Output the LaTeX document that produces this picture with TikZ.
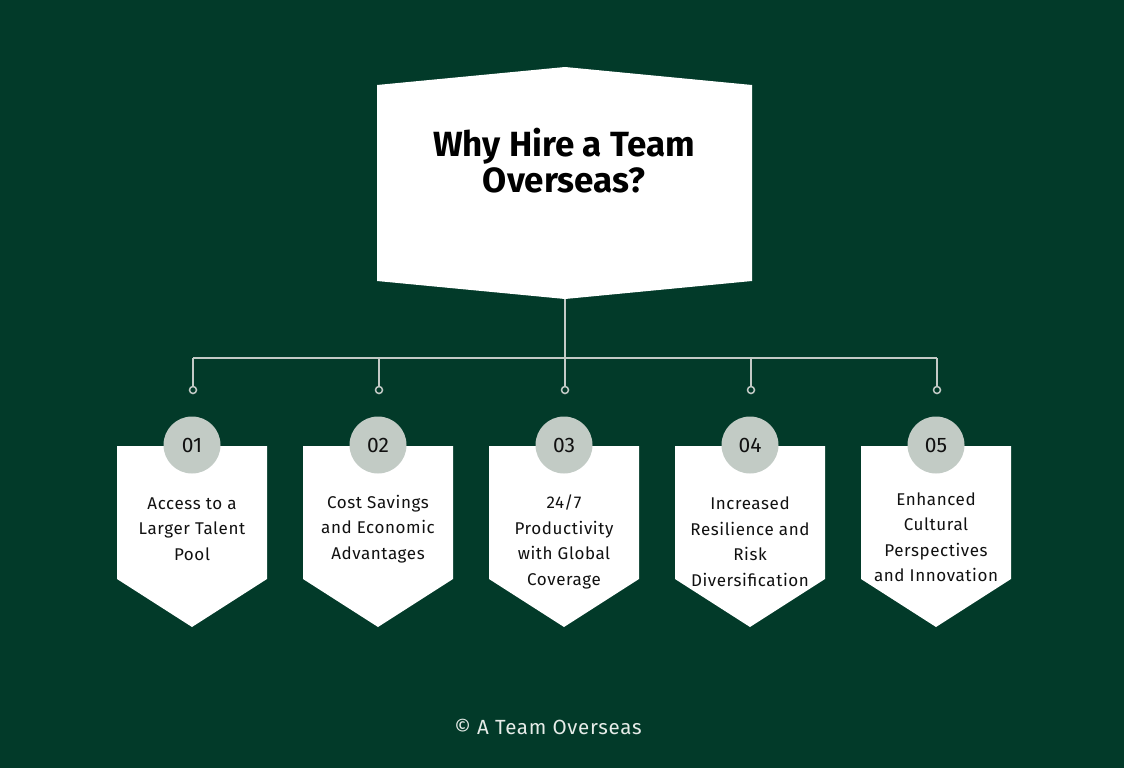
\documentclass[tikz,border=0pt]{standalone}
\usepackage{fontspec}
\setmainfont{Fira Sans}
\newfontfamily\spacedfont[LetterSpace=3.5]{Fira Sans}
\definecolor{bg}{HTML}{023A29}
\definecolor{ln}{HTML}{C3CAC6}
\definecolor{badge}{HTML}{C2CBC5}
\definecolor{foot}{HTML}{E6ECE8}
\definecolor{ink}{HTML}{111111}
\begin{document}
\begin{tikzpicture}[x=1pt,y=-1pt,
  title/.style={align=center,inner sep=0pt,text=black,font=\fontsize{35}{36}\selectfont\bfseries},
  cardtext/.style={align=center,inner sep=0pt,text=ink,font=\spacedfont\fontsize{17}{25.5}\selectfont},
  badgenode/.style={circle,fill=badge,minimum size=57pt,inner sep=0pt,text=ink,font=\fontsize{21}{24}\selectfont},
  dotnode/.style={circle,draw=ln,line width=1.5pt,fill=bg,minimum size=7pt,inner sep=0pt},
  wire/.style={draw=ln,line width=2pt},
  footnode/.style={inner sep=0pt,text=foot,font=\spacedfont\fontsize{20.5}{22}\selectfont}]
\fill[bg] (0,0) rectangle (1124,768);
\useasboundingbox (0,0) rectangle (1124,768);
% header
\fill[white] (377,85) -- (565,67) -- (752,85) -- (752,281) -- (565,299) -- (377,281) -- cycle;
\node[title] (title) at (564,161) {Why Hire a Team\\Overseas?};
\coordinate (hbot) at (565,299);
% bus
\foreach \i/\x in {1/193,2/379,3/565,4/751,5/937}{
  \coordinate (bus\i) at (\x,358);
  \node[dotnode] (dot\i) at (\x,390) {};
}
\path[wire] (hbot) -- (bus3);
\path[wire] (bus1) -- (bus5);
\foreach \i in {1,...,5}{
  \path[wire] (bus\i) -- (dot\i.north);
}
% cards
\foreach \i/\x/\n/\yc/\t in {
  1/192/01/529/{Access to a\\Larger Talent\\Pool},
  2/378/02/529/{Cost Savings\\and Economic\\Advantages},
  3/564/03/542/{24/7\\Productivity\\with Global\\Coverage},
  4/750/04/541.5/{Increased\\Resilience and\\Risk\\Diversification},
  5/936/05/537/{Enhanced\\Cultural\\Perspectives\\and Innovation}}{
  \fill[white] (\x-75,446) -- (\x+75,446) -- (\x+75,579) -- (\x,627) -- (\x-75,579) -- cycle;
  \node[badgenode] (badge\i) at (\x,445) {\n};
  \node[cardtext] (text\i) at (\x,\yc) {\t};
}
\node[footnode] (foot) at (548,727) {© A Team Overseas};
\end{tikzpicture}
\end{document}
